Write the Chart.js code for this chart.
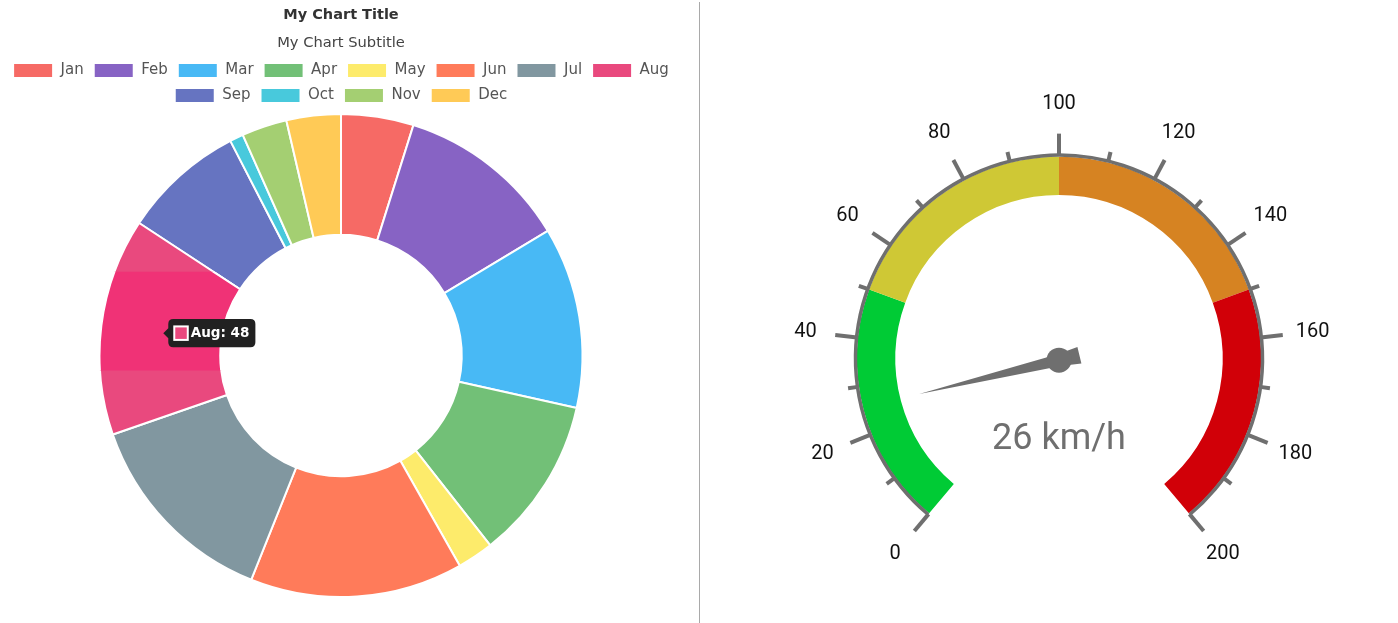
<!DOCTYPE html>
<html>
<head>
<meta charset="utf-8">
<script src="https://cdn.jsdelivr.net/npm/chart.js@4/dist/chart.umd.min.js"></script>
<style>
html,body{margin:0;padding:0;background:#fff;width:1398px;height:623px;overflow:hidden;}
#left{position:absolute;left:0;top:0;width:682px;height:623px;}
#divider{position:absolute;left:699px;top:2px;width:1px;height:621px;background:#a9a9a9;}
#right{position:absolute;left:700px;top:0;width:698px;height:623px;}
</style>
</head>
<body>
<div id="left"><canvas id="c1" width="682" height="623"></canvas></div>
<div id="divider"></div>
<div id="right"><canvas id="c2" width="698" height="623"></canvas></div>
<script>
// ---------- Doughnut data ----------
const months = ['Jan','Feb','Mar','Apr','May','Jun','Jul','Aug','Sep','Oct','Nov','Dec'];
const monthValues = [16, 38, 40, 36, 8, 47, 45, 48, 27, 3, 10, 12];
const monthColors = ['#F66A65','#8763C4','#48B9F5','#72C077','#FDEB6B','#FF7B5A',
                     '#8197A0','#E9497E','#6674C1','#48C9DC','#A4CF72','#FFCA56'];
const activeIndex = 7;
const activeBrightColor = '#F03276';

// ---------- Gauge data ----------
const gaugeValue = 26;
const gaugeUnit = 'km/h';
const gaugeBandEdges = [0, 50, 100, 150, 200];
const gaugeBandColors = ['#00CB35', '#CFC835', '#D68322', '#D10008'];
const gaugeMajorTicks = [0, 20, 40, 60, 80, 100, 120, 140, 160, 180, 200];
const gaugeMinorTicks = [10, 30, 50, 70, 90, 110, 130, 150, 170, 190];

const gaugeBandSizes = gaugeBandEdges.slice(1).map((e, i) => e - gaugeBandEdges[i]);
const gaugeMin = gaugeBandEdges[0];
const gaugeMax = gaugeBandEdges[gaugeBandEdges.length - 1];

const LEFT_FONT = "'DejaVu Sans', Verdana, sans-serif";
const GAUGE_FONT = "Roboto, sans-serif";

// partial repaint band of the hovered slice (as in the capture)
const hoverBandPlugin = {
  id: 'hoverBand',
  afterDatasetsDraw(chart) {
    const el = chart.getDatasetMeta(0).data[activeIndex];
    if (!el) return;
    const ctx = chart.ctx;
    const R = el.outerRadius;
    ctx.save();
    ctx.beginPath();
    ctx.rect(0, el.y - 0.347 * R, el.x, 0.409 * R);
    ctx.clip();
    const saved = el.options;
    el.options = Object.assign({}, saved, {backgroundColor: activeBrightColor});
    el.draw(ctx);
    el.options = saved;
    ctx.restore();
  }
};

const c1 = new Chart(document.getElementById('c1'), {
  type: 'doughnut',
  data: {
    labels: months,
    datasets: [{
      data: monthValues,
      backgroundColor: monthColors,
      hoverBackgroundColor: monthColors,
      borderColor: '#ffffff',
      hoverBorderColor: '#ffffff',
      borderWidth: 2
    }]
  },
  options: {
    responsive: false,
    animation: false,
    devicePixelRatio: 1,
    cutout: '50%',
    events: [],
    layout: {padding: {top: 3, bottom: 25}},
    plugins: {
      title: {
        display: true, text: 'My Chart Title', color: '#333333',
        font: {family: LEFT_FONT, size: 14.5, weight: 'bold'},
        padding: {top: 4, bottom: 4}
      },
      subtitle: {
        display: true, text: 'My Chart Subtitle', color: '#444444',
        font: {family: LEFT_FONT, size: 14.7},
        padding: {top: 6, bottom: 1}
      },
      legend: {
        position: 'top',
        labels: {color: '#555555', font: {family: LEFT_FONT, size: 15}, boxWidth: 40, padding: 10}
      },
      tooltip: {
        enabled: true,
        backgroundColor: '#212121',
        bodyColor: '#ffffff',
        bodyFont: {family: LEFT_FONT, size: 13.5, weight: 'bold'},
        padding: 6,
        cornerRadius: 5,
        caretSize: 5,
        boxPadding: 1,
        callbacks: {
          title: () => '',
          label: (item) => item.label + ': ' + item.formattedValue
        }
      }
    }
  },
  plugins: [hoverBandPlugin]
});
c1.setActiveElements([{datasetIndex: 0, index: activeIndex}]);
c1.tooltip.setActiveElements([{datasetIndex: 0, index: activeIndex}], {x: 0, y: 0});
c1.update();

// ---------- Gauge ----------
const GAUGE_ROT = -140, GAUGE_CIRC = 280;
function valueAngle(v) {
  return ((GAUGE_ROT - 90) + (v - gaugeMin) / (gaugeMax - gaugeMin) * GAUGE_CIRC) * Math.PI / 180;
}
const gaugePlugin = {
  id: 'gaugeDecor',
  afterDatasetsDraw(chart) {
    const el = chart.getDatasetMeta(0).data[0];
    const ctx = chart.ctx;
    const cx = el.x, cy = el.y, R = el.outerRadius;
    const grey = '#6f6f6f';
    ctx.save();
    // outline
    ctx.strokeStyle = grey;
    ctx.lineWidth = 3.5;
    ctx.beginPath();
    ctx.arc(cx, cy, R + 1.5, valueAngle(gaugeMin), valueAngle(gaugeMax));
    ctx.stroke();
    // ticks
    ctx.lineWidth = 4;
    ctx.lineCap = 'butt';
    const drawTick = (v, len) => {
      const a = valueAngle(v);
      ctx.beginPath();
      ctx.moveTo(cx + Math.cos(a) * (R + 1), cy + Math.sin(a) * (R + 1));
      ctx.lineTo(cx + Math.cos(a) * (R + 1 + len), cy + Math.sin(a) * (R + 1 + len));
      ctx.stroke();
    };
    gaugeMajorTicks.forEach(v => drawTick(v, 22));
    gaugeMinorTicks.forEach(v => drawTick(v, 10));
    // labels
    ctx.fillStyle = '#111111';
    ctx.font = '20px ' + GAUGE_FONT;
    ctx.textAlign = 'center';
    ctx.textBaseline = 'middle';
    gaugeMajorTicks.forEach(v => {
      const a = valueAngle(v);
      ctx.fillText(String(v), cx + Math.cos(a) * (R + 53), cy + Math.sin(a) * (R + 53));
    });
    // value text
    ctx.fillStyle = grey;
    ctx.font = '36px ' + GAUGE_FONT;
    ctx.fillText(gaugeValue + ' ' + gaugeUnit, cx, cy + 0.405 * R);
    // needle
    const a = valueAngle(gaugeValue);
    const px = cx, py = cy + 1.5;
    const ux = Math.cos(a), uy = Math.sin(a);
    const nx = -uy, ny = ux;
    const len = 0.712 * R, hw = 6, tail = 21, thw = 8.5;
    ctx.fillStyle = grey;
    ctx.beginPath();
    ctx.moveTo(px + ux * len, py + uy * len);
    ctx.lineTo(px + nx * hw, py + ny * hw);
    ctx.lineTo(px - ux * tail + nx * thw, py - uy * tail + ny * thw);
    ctx.lineTo(px - ux * tail - nx * thw, py - uy * tail - ny * thw);
    ctx.lineTo(px - nx * hw, py - ny * hw);
    ctx.closePath();
    ctx.fill();
    ctx.beginPath();
    ctx.arc(px, py, 12.5, 0, Math.PI * 2);
    ctx.fill();
    ctx.restore();
  }
};

new Chart(document.getElementById('c2'), {
  type: 'doughnut',
  data: {
    labels: ['0-50', '50-100', '100-150', '150-200'],
    datasets: [{
      data: gaugeBandSizes,
      backgroundColor: gaugeBandColors,
      borderWidth: 0
    }]
  },
  options: {
    responsive: false,
    animation: false,
    devicePixelRatio: 1,
    rotation: GAUGE_ROT,
    circumference: GAUGE_CIRC,
    cutout: '81%',
    events: [],
    layout: {padding: {left: 157, right: 137, top: 135, bottom: 88}},
    plugins: {legend: {display: false}, tooltip: {enabled: false}}
  },
  plugins: [gaugePlugin]
});
</script>
</body>
</html>
